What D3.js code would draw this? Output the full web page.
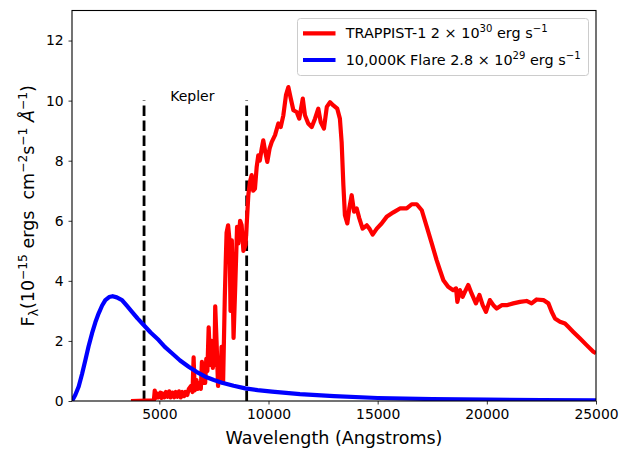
<!DOCTYPE html>
<html>
<head>
<meta charset="utf-8">
<script src="https://cdn.jsdelivr.net/npm/d3@7"></script>
<style>
  html, body { margin: 0; padding: 0; background: #fff; }
  text { font-family: "DejaVu Sans", sans-serif; fill: #000; white-space: pre; }
</style>
</head>
<body>
<div id="chart"></div>
<script>
// ---- data ----
const xTicks = [5000, 10000, 15000, 20000, 25000];
const yTicks = [0, 2, 4, 6, 8, 10, 12];
const keplerBand = [4300, 9000];
const keplerTop = 10;

// 10,000K flare blackbody (blue) [wavelength, flux]
const flare = [
  [1000, 0], [1150, 0.2], [1307, 0.48], [1460, 0.9], [1611, 1.36], [1760, 1.82], [1916, 2.25],
  [2070, 2.62], [2222, 2.92], [2380, 3.18], [2527, 3.36], [2700, 3.46], [2863, 3.49],
  [3050, 3.45], [3290, 3.36], [3500, 3.18], [3748, 2.97], [4000, 2.75], [4283, 2.53],
  [4600, 2.28], [4970, 2.03], [5250, 1.8], [5580, 1.59], [5950, 1.35], [6344, 1.14],
  [6700, 0.97], [7106, 0.81], [7500, 0.7], [7870, 0.61], [8400, 0.51], [8938, 0.42],
  [9500, 0.36], [10160, 0.31], [11440, 0.23], [13000, 0.16], [15000, 0.1], [17500, 0.065],
  [20000, 0.045], [22500, 0.03], [25000, 0.02]
];

// TRAPPIST-1 spectrum (red) [wavelength, flux]
const trappist = [
  [3700, 0], [4750, 0.02], [4790, 0.35], [4830, 0.1], [4900, 0.25], [4950, 0.12], [5050, 0.28],
  [5100, 0.1], [5150, 0.25], [5230, 0.12], [5300, 0.3], [5380, 0.14], [5450, 0.32], [5520, 0.12],
  [5600, 0.28], [5680, 0.12], [5750, 0.3], [5830, 0.14], [5900, 0.32], [5980, 0.12], [6050, 0.3],
  [6130, 0.16], [6200, 0.3], [6280, 0.2], [6350, 0.4], [6450, 0.5], [6520, 0.3], [6570, 1.45],
  [6620, 0.35], [6700, 0.7], [6750, 0.4], [6850, 0.6], [6900, 0.4], [6950, 1.3], [7000, 0.6],
  [7050, 1.0], [7100, 0.6], [7150, 1.4], [7200, 1.0], [7260, 2.45], [7330, 1.2], [7400, 2.0],
  [7450, 1.1], [7480, 1.6], [7520, 1.2], [7560, 3.15], [7620, 2.0], [7690, 0.5], [7760, 1.1],
  [7800, 0.7], [7850, 1.8], [7920, 0.6], [8000, 3.5], [8040, 4.6], [8080, 5.6], [8150, 5.85],
  [8220, 5.3], [8260, 3.0], [8320, 5.35], [8400, 2.1], [8480, 3.9], [8560, 5.8], [8620, 5.25],
  [8700, 6.0], [8770, 5.85], [8850, 5.0], [8950, 5.2], [9076, 6.85], [9150, 7.3], [9230, 7.52],
  [9300, 7.0], [9380, 7.07], [9460, 7.8], [9532, 8.18], [9600, 8.0], [9690, 8.4], [9760, 8.68],
  [9850, 8.3], [9945, 7.96], [10050, 8.4], [10146, 8.62], [10300, 8.85], [10450, 9.24],
  [10560, 9.12], [10680, 9.51], [10800, 10.18], [10910, 10.45], [11020, 10.07], [11140, 9.68],
  [11290, 9.62], [11410, 9.4], [11570, 10.07], [11670, 9.51], [11820, 9.24], [11980, 9.12],
  [12130, 9.4], [12280, 9.73], [12390, 9.29], [12540, 9.07], [12670, 9.79], [12820, 9.95],
  [12970, 9.84], [13150, 9.73], [13270, 9.4], [13350, 8.62], [13430, 7.18], [13500, 6.19],
  [13610, 5.91], [13700, 6.41], [13810, 6.85], [13920, 6.3], [14040, 6.41], [14160, 6.08],
  [14310, 5.74], [14500, 5.85], [14620, 5.74], [14770, 5.54], [14960, 5.74], [15180, 5.91],
  [15410, 6.13], [15720, 6.28], [16020, 6.41], [16330, 6.41], [16560, 6.55], [16790, 6.55],
  [17020, 6.35], [17250, 5.8], [17480, 5.24], [17700, 4.69], [17850, 4.36], [18010, 4.02],
  [18230, 3.8], [18460, 3.69], [18590, 3.75], [18650, 3.3], [18770, 3.69], [18890, 3.47],
  [19000, 3.64], [19150, 3.86], [19300, 3.58], [19500, 3.25], [19660, 3.53], [19810, 3.19],
  [19960, 2.97], [20140, 3.36], [20300, 3.19], [20450, 3.08], [20680, 3.19], [20910, 3.19],
  [21210, 3.25], [21520, 3.3], [21820, 3.33], [22050, 3.25], [22280, 3.38], [22590, 3.36],
  [22820, 3.25], [22970, 2.97], [23120, 2.75], [23350, 2.64], [23580, 2.58], [23730, 2.47],
  [23960, 2.3], [24270, 2.08], [24570, 1.86], [24880, 1.64], [25000, 1.59]
];

const legendRows = [
  { color: '#ff0000', parts: [{ t: 'TRAPPIST-1 2 \u00d7 10' }, { t: '30', sup: true }, { t: ' erg s' }, { t: '\u22121', sup: true }] },
  { color: '#0000ff', parts: [{ t: '10,000K Flare 2.8 \u00d7 10' }, { t: '29', sup: true }, { t: ' erg s' }, { t: '\u22121', sup: true }] }
];

// ---- layout ----
const W = 638, H = 452;
const margin = { top: 10.5, right: 42, bottom: 51, left: 72 };
const width = W - margin.left - margin.right;
const height = H - margin.top - margin.bottom;

const svg = d3.select('#chart').append('svg')
  .attr('width', W)
  .attr('height', H);

const g = svg.append('g')
  .attr('transform', `translate(${margin.left},${margin.top})`);

const x = d3.scaleLinear().domain([1000, 25000]).range([0, width]);
const y = d3.scaleLinear().domain([0, 13]).range([height, 0]);

// Rich text helper: superscripts/subscripts as tspans; the shift is undone on the next piece
function richText(sel, parts, size) {
  let back = 0;
  parts.forEach(p => {
    const ts = sel.append('tspan').style('font-style', p.italic ? 'italic' : null).text(p.t);
    if (p.sup || p.sub) {
      const shift = p.sup ? -0.42 * size : 0.22 * size;
      ts.attr('dy', back + shift).style('font-size', (size * 0.7) + 'px');
      back = -shift;
    } else {
      if (back) ts.attr('dy', back);
      back = 0;
    }
  });
}

g.append('clipPath').attr('id', 'clip')
  .append('rect').attr('width', width).attr('height', height);

// Kepler band
g.selectAll('.kepler')
  .data(keplerBand)
  .enter().append('line')
  .attr('x1', d => x(d)).attr('x2', d => x(d))
  .attr('y1', y(0)).attr('y2', y(keplerTop))
  .attr('stroke', '#000')
  .attr('stroke-width', 2.8)
  .attr('stroke-dasharray', '10.5,4.5');

g.append('text')
  .attr('x', x(5500)).attr('y', y(keplerTop))
  .style('font-size', '14px')
  .text('Kepler');

const line = d3.line().x(d => x(d[0])).y(d => y(d[1]));

g.append('path')
  .datum(trappist)
  .attr('clip-path', 'url(#clip)')
  .attr('fill', 'none')
  .attr('stroke', '#ff0000')
  .attr('stroke-width', 4.2)
  .attr('stroke-linejoin', 'round')
  .attr('d', line);

g.append('path')
  .datum(flare)
  .attr('clip-path', 'url(#clip)')
  .attr('fill', 'none')
  .attr('stroke', '#0000ff')
  .attr('stroke-width', 4.2)
  .attr('stroke-linejoin', 'round')
  .attr('d', line);

// Axes
const xAxis = g.append('g')
  .attr('transform', `translate(0,${height})`)
  .call(d3.axisBottom(x).tickValues(xTicks).tickFormat(d3.format('d')).tickSize(3.5).tickPadding(4.9));
const yAxis = g.append('g')
  .call(d3.axisLeft(y).tickValues(yTicks).tickFormat(d3.format('d')).tickSize(3.5).tickPadding(4.9));

[xAxis, yAxis].forEach(a => {
  a.select('.domain').remove();
  a.selectAll('line').attr('stroke', '#000').attr('stroke-width', 0.8);
  a.selectAll('text').style('font-size', '13.9px').style('font-family', '"DejaVu Sans", sans-serif').attr('fill', '#000');
});

// frame
g.append('rect')
  .attr('width', width).attr('height', height)
  .attr('fill', 'none').attr('stroke', '#000').attr('stroke-width', 1.1);

// Axis labels
svg.append('text')
  .attr('x', margin.left + width / 2).attr('y', 444)
  .attr('text-anchor', 'middle')
  .style('font-size', '17.5px')
  .text('Wavelength (Angstroms)');

const yl = svg.append('text')
  .attr('transform', `translate(34,${margin.top + height / 2}) rotate(-90)`)
  .attr('text-anchor', 'middle')
  .style('font-size', '17.5px');
richText(yl, [
  { t: 'F' }, { t: '\u03bb', sub: true }, { t: '(10' }, { t: '\u221215', sup: true },
  { t: ' ergs  cm' }, { t: '\u22122', sup: true }, { t: 's' }, { t: '\u22121', sup: true },
  { t: ' ' }, { t: '\u00c5', italic: true }, { t: '\u22121', sup: true }, { t: ')' }
], 17.5);

// Legend
const leg = svg.append('g');
leg.append('rect')
  .attr('x', 297.5).attr('y', 18.5).attr('width', 291).attr('height', 57).attr('rx', 3)
  .attr('fill', '#fff').attr('fill-opacity', 0.8)
  .attr('stroke', '#cccccc').attr('stroke-width', 1);

legendRows.forEach((r, i) => {
  const cy = 33.3 + i * 26.7;
  leg.append('line')
    .attr('x1', 303).attr('x2', 335.5).attr('y1', cy).attr('y2', cy)
    .attr('stroke', r.color).attr('stroke-width', 4.2);
  const t = leg.append('text')
    .attr('x', 345.7).attr('y', cy + 4.8)
    .style('font-size', '14.4px');
  richText(t, r.parts, 14.4);
});
</script>
</body>
</html>
